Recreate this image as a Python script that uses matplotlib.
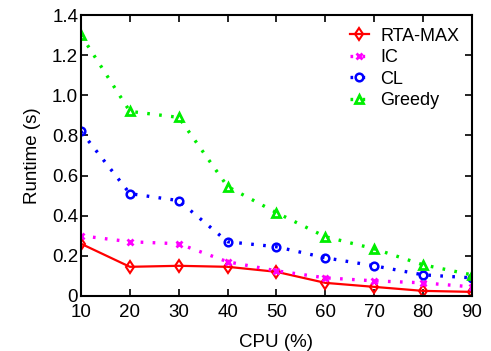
import numpy as np
import matplotlib
matplotlib.use('Agg')
import matplotlib.pyplot as plt

plt.rcParams['font.family'] = ['Liberation Sans', 'DejaVu Sans']

cpu = [10, 20, 30, 40, 50, 60, 70, 80, 90]
rta_max = [0.26, 0.145, 0.15, 0.145, 0.12, 0.065, 0.045, 0.025, 0.02]
ic = [0.30, 0.27, 0.26, 0.17, 0.125, 0.09, 0.075, 0.065, 0.045]
cl = [0.82, 0.51, 0.475, 0.27, 0.245, 0.19, 0.15, 0.105, 0.09]
greedy = [1.30, 0.92, 0.89, 0.545, 0.415, 0.295, 0.235, 0.155, 0.105]

fig = plt.figure(figsize=(4.91, 3.51), dpi=100)
ax = fig.add_axes([0.165, 0.157, 0.796, 0.80])

dots = (0, (0.8, 2.8))
ax.plot(cpu, rta_max, color='red', linestyle='-', linewidth=1.6, marker='d',
        markersize=6, markerfacecolor='none', markeredgewidth=1.5, label='RTA-MAX')
ax.plot(cpu, ic, color='magenta', linestyle=dots, linewidth=2.4, marker='x',
        markersize=4.5, markeredgewidth=2, label='IC')
ax.plot(cpu, cl, color='blue', linestyle=dots, linewidth=2.4, marker='o',
        markersize=5.5, markerfacecolor='none', markeredgewidth=1.8, label='CL')
ax.plot(cpu, greedy, color='#00ee00', linestyle=dots, linewidth=2.4, marker='^',
        markersize=6, markerfacecolor='none', markeredgewidth=2, label='Greedy')

ax.set_xlim(10, 90)
ax.set_ylim(0, 1.4)
ax.set_xticks(cpu)
yt = [0, 0.2, 0.4, 0.6, 0.8, 1.0, 1.2, 1.4]
ax.set_yticks(yt)
ax.set_yticklabels(['0', '0.2', '0.4', '0.6', '0.8', '1.0', '1.2', '1.4'])
ax.tick_params(direction='in', top=True, right=True, labelsize=13.5, length=5, width=1.2)
ax.tick_params(axis='x', pad=6)
ax.tick_params(axis='y', pad=2)
for s in ax.spines.values():
    s.set_linewidth(1.5)

ax.set_xlabel('CPU (%)', fontsize=13.5, labelpad=9)
ax.set_ylabel('Runtime (s)', fontsize=13.5, labelpad=8)

ax.legend(loc='upper right', bbox_to_anchor=(1.0, 1.0), frameon=False, fontsize=13,
          handlelength=1.1, handletextpad=0.6, labelspacing=0.25, borderaxespad=0.3)

fig.savefig('out.png', dpi=100)
